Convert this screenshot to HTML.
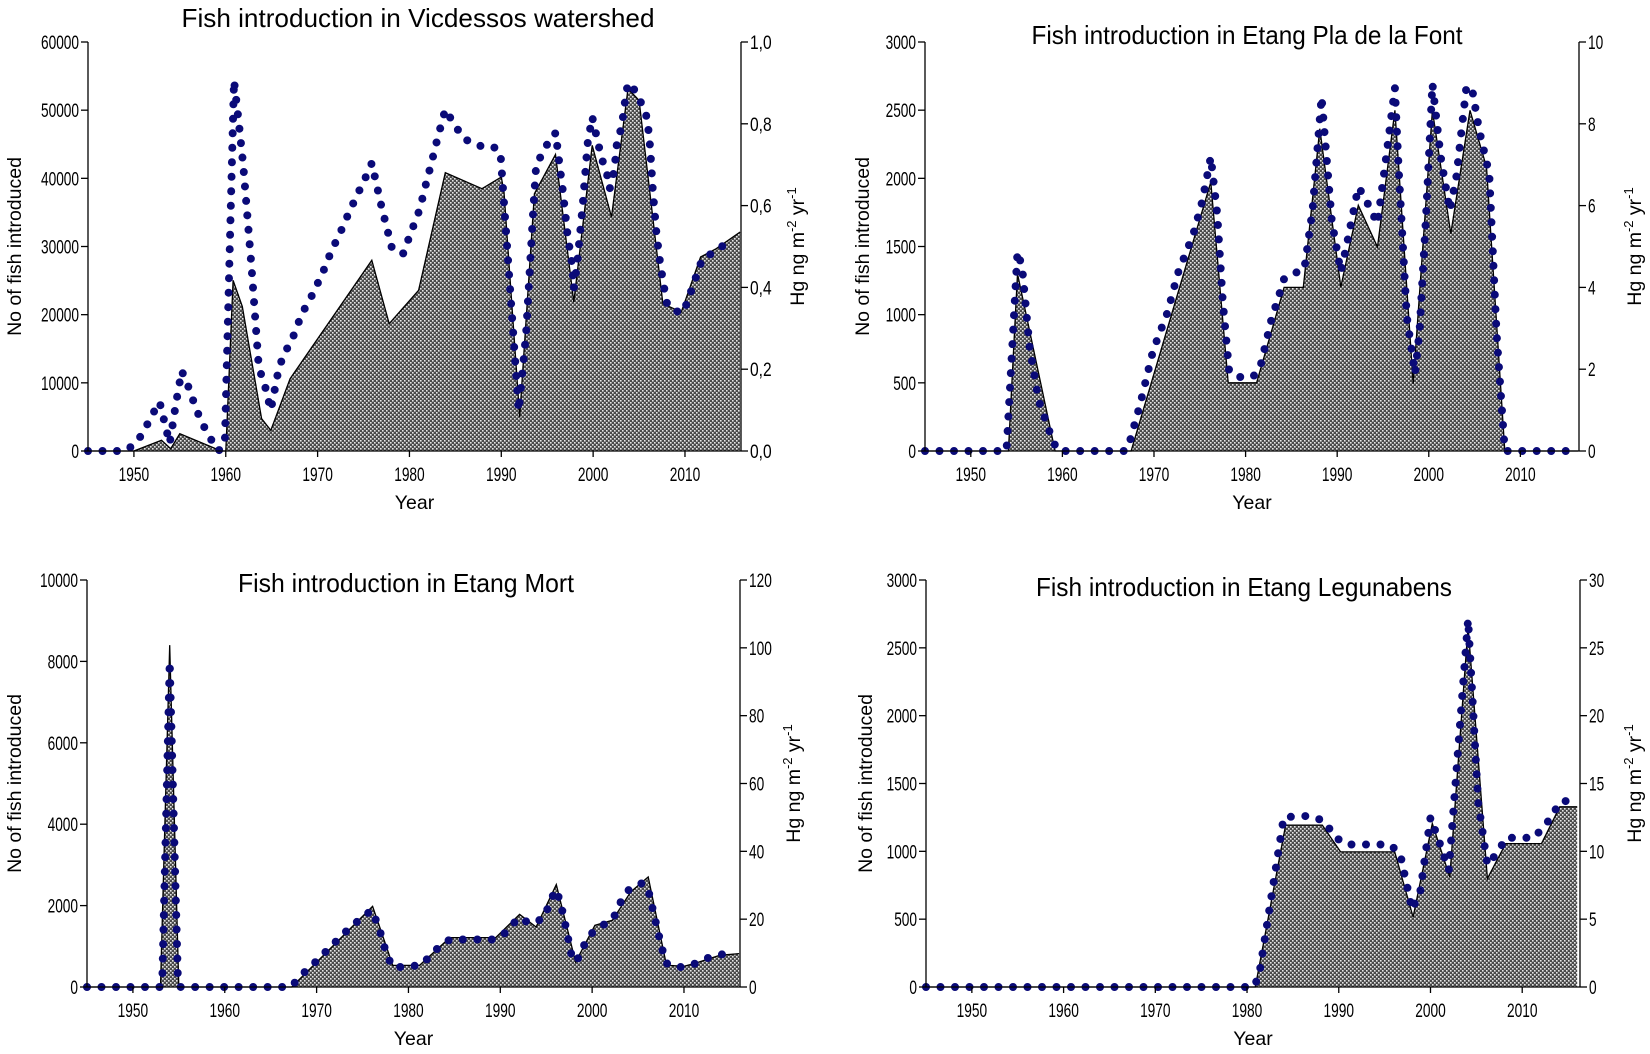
<!DOCTYPE html>
<html><head><meta charset="utf-8">
<style>
html,body{margin:0;padding:0;background:#fff;}
svg{display:block;}
text{font-family:"Liberation Sans",sans-serif;fill:#000;}
.t{font-size:19.5px;}
.ttl{font-size:26px;}
.lab{font-family:"Liberation Sans",sans-serif;font-size:19.5px;}
</style></head>
<body>
<svg id="chart" width="1650" height="1054" viewBox="0 0 1650 1054" xmlns="http://www.w3.org/2000/svg">
<defs>
<pattern id="hatch" width="4" height="4" patternUnits="userSpaceOnUse">
<rect width="4" height="4" fill="#4a4a4a"/>
<rect x="0" y="0" width="1.6" height="1.6" fill="#e6e6e6"/>
<rect x="2" y="2" width="1.6" height="1.6" fill="#e6e6e6"/>
</pattern>
</defs>
</svg>
<script>
// ---- Panel 1: Vicdessos watershed ----
const p1FishYears=[1945,1950,1953,1954,1955,1959.5,1960,1960.8,1961.8,1963.9,1964.9,1967,1975.9,1977.8,1981,1983.9,1987.9,1990,1990.3,1992,1993.6,1995.9,1997.9,1999.9,2002,2003.8,2005,2007.6,2009.6,2011.7,2013.4,2016];
const p1Fish=[0,0,1565,340,2540,0,0,25040,21220,4740,3030,10600,27970,18680,23570,40830,38480,40200,38000,5000,37750,43500,21860,44840,34330,53150,51440,21600,20390,28460,29680,32120];
const p1HgYears=[1945,1949,1950.2,1951.1,1951.9,1952.8,1953.9,1954.6,1955.2,1955.9,1956.8,1957.5,1958.4,1959.2,1959.9,1960.9,1961.4,1961.9,1962.8,1963.6,1964.3,1964.9,1965.7,1966.2,1967.3,1967.9,1968.6,1969.5,1970.2,1970.9,1971.5,1972.3,1973,1973.7,1974.4,1975.2,1975.9,1976.9,1978.1,1979.3,1980.5,1981.1,1981.9,1982.3,1983.1,1983.9,1984.9,1985.9,1987.5,1989,1989.9,1991.9,1992.7,1993.5,1993.8,1994.7,1995.5,1996,1996.1,1996.7,1997.2,1997.7,1997.9,1998.3,1998.9,1999.4,1999.9,2000.6,2001,2001.5,2001.8,2002.3,2002.6,2003.1,2003.5,2003.8,2004.5,2005.3,2005.9,2006.2,2006.5,2006.9,2007.3,2007.8,2008.1,2009.6,2010.3,2010.8,2011.9,2013.4,2015];
const p1Hg=[0,0,0.018,0.049,0.085,0.12,0.018,0.12,0.196,0.159,0.101,0.065,0.028,0,0.018,0.906,0.807,0.70,0.45,0.205,0.156,0.10,0.193,0.23,0.277,0.313,0.348,0.385,0.419,0.454,0.49,0.525,0.562,0.597,0.63,0.668,0.704,0.603,0.495,0.482,0.554,0.59,0.662,0.696,0.768,0.835,0.798,0.764,0.746,0.746,0.731,0.098,0.287,0.595,0.70,0.737,0.772,0.778,0.743,0.637,0.531,0.458,0.397,0.466,0.609,0.751,0.817,0.747,0.711,0.678,0.641,0.686,0.755,0.792,0.861,0.9,0.883,0.848,0.813,0.743,0.637,0.531,0.458,0.389,0.354,0.336,0.364,0.40,0.47,0.489,0.517];
const p1LeftTicks=[0,10000,20000,30000,40000,50000,60000];
const p1RightTicks=["0,0","0,2","0,4","0,6","0,8","1,0"];
const p1RightVals=[0,0.2,0.4,0.6,0.8,1.0];

// ---- Panel 2: Etang Pla de la Font ----
const p2FishYears=[1945,1954.1,1955.1,1959.2,1967.5,1976.2,1978.1,1981.2,1984.2,1986.3,1988.1,1990.4,1992.3,1994.4,1996.3,1998.3,2000.4,2002.4,2004.5,2006.3,2008.3,2016.3];
const p2Fish=[0,0,1300,0,0,1973,500,500,1200,1200,2364,1203,1802,1496,2499,494,2499,1594,2499,2083,0,0];
const p2HgYears=[1945,1953.9,1955.1,1955.6,1956.4,1957.4,1959,1959.6,1966.8,1967.2,1968.5,1969.9,1971.5,1972.6,1974.3,1975.3,1976.2,1976.9,1977.5,1978.2,1979.1,1980.8,1981.6,1982.8,1984.2,1985.2,1986.4,1987.3,1988.3,1989.4,1990.4,1991,1992.3,1992.9,1994.4,1995.4,1996.3,1996.7,1997.6,1998.5,1999,1999.7,2000.4,2001.3,2002.3,2003,2004.1,2004.7,2005.5,2006.6,2007.4,2008.3,2016];
const p2Hg=[0,0,4.87,4.5,2.58,1.24,0.22,0,0,0.1,1.16,2.46,3.4,4.34,5.31,6.13,7.19,5.8,3.68,1.96,1.81,1.81,2.05,3.19,4.21,4.34,4.43,5.88,8.66,5.64,4.38,4.99,6.45,6.25,5.56,7.27,8.88,6.94,3.28,1.89,2.95,5.72,8.98,7.19,5.88,6.7,8.88,8.9,7.84,6.78,2.87,0,0];
const p2LeftTicks=[0,500,1000,1500,2000,2500,3000];
const p2RightTicks=["0","2","4","6","8","10"];
const p2RightVals=[0,2,4,6,8,10];

// ---- Panel 3: Etang Mort ----
const p3FishYears=[1945,1953,1954,1955,1967.3,1976.1,1978.3,1981.2,1984.5,1989.5,1992.1,1993.9,1996.1,1998.2,2000.3,2002.2,2004.2,2006.1,2008.1,2010,2011.1,2013.9,2016];
const p3Fish=[0,0,8400,0,0,1984,530,530,1213,1213,1787,1475,2516,615,1516,1640,2336,2705,533,508,574,779,820];
const p3HgYears=[1945,1952.9,1953.2,1954,1954.9,1955.2,1967.2,1968.3,1970,1971.5,1973,1974.8,1976,1976.7,1977.2,1977.6,1978.3,1980,1981.5,1983,1984.5,1989.3,1990.5,1992,1993.3,1994.7,1996,1996.5,1997.2,1997.8,1998.3,1999,2000,2001,2002.3,2003,2004,2005.5,2006.1,2007.2,2008,2009.2,2010.8,2012.4,2014,2015.5];
const p3Hg=[0,0,2,96,2,0,0,3.4,7.7,11.8,15.9,20.2,22.6,18.2,13.8,9.6,5.9,5.9,6.7,11,14,14,15.9,20.4,18.7,20.2,28.7,25.6,16.9,8.7,7.4,11.8,15.9,17.9,20.2,24.6,28.7,30.7,28.7,15.9,7.1,5.7,6.4,8.4,9.6,9.6];
const p3LeftTicks=[0,2000,4000,6000,8000,10000];
const p3RightTicks=["0","20","40","60","80","100","120"];
const p3RightVals=[0,20,40,60,80,100,120];

// ---- Panel 4: Etang Legunabens ----
const p4FishYears=[1945,1980.9,1984.2,1988.2,1990.2,1996.1,1998.1,2000.2,2002.1,2004.1,2006.2,2008.2,2012.1,2014.1,2016];
const p4Fish=[0,0,1193,1193,996,996,516,1205,811,2656,799,1057,1057,1328,1328];
const p4HgYears=[1945,1980.7,1981.3,1984,1985.6,1987,1988.5,1989.5,1990.8,1995.6,1996.7,1998,1998.9,2000,2001,2002,2004.1,2005.2,2006.2,2007.4,2008.2,2011.3,2013.3,2014,2015.4];
const p4Hg=[0,0,0.8,12.5,12.6,12.6,12.2,11.1,10.5,10.5,9.8,5.7,7.1,12.5,10.6,8.6,27.1,13.6,9.0,10,11,11,12.6,13.6,13.8];
const p4LeftTicks=[0,500,1000,1500,2000,2500,3000];
const p4RightTicks=["0","5","10","15","20","25","30"];
const p4RightVals=[0,5,10,15,20,25,30];

const xTicks=[1950,1960,1970,1980,1990,2000,2010];

const NS="http://www.w3.org/2000/svg";
const svg=document.getElementById('chart');
function mk(tag,attrs,parent){const e=document.createElementNS(NS,tag);for(const k in attrs)e.setAttribute(k,attrs[k]);(parent||svg).appendChild(e);return e;}
function narrowLen(t,len){t.setAttribute('textLength',len.toFixed(1));t.setAttribute('lengthAdjust','spacingAndGlyphs');}

function panel(o){
  const g=mk('g',{});
  
  
  const xS=y=>o.x0+(y-1945)/(o.xMax-1945)*(o.x1-o.x0);
  const yL=v=>o.yb-v/o.lMax*(o.yb-o.yt);
  const yR=v=>o.yb-v/o.rMax*(o.yb-o.yt);
  let d='M'+xS(o.fy[0])+','+o.yb;
  o.fy.forEach((yr,i)=>{d+=' L'+xS(yr).toFixed(1)+','+yL(o.fv[i]).toFixed(1);});
  d+=' L'+xS(o.fy[o.fy.length-1]).toFixed(1)+','+o.yb+' Z';
  const area=mk('path',{d:d,fill:'url(#hatch)',stroke:'none'},g);
  
  
  let ld='';
  o.fy.forEach((yr,i)=>{ld+=(i?' L':'M')+xS(yr).toFixed(1)+','+yL(o.fv[i]).toFixed(1);});
  const line=mk('path',{d:ld,fill:'none',stroke:'#000','stroke-width':1.3},g);
  
  
  const pts=o.hy.map((yr,i)=>xS(yr).toFixed(1)+','+yR(o.hv[i]).toFixed(1)).join(' ');
  const hg=mk('polyline',{points:pts,fill:'none',stroke:'#0a0a78','stroke-width':8,'stroke-linecap':'round','stroke-linejoin':'round','stroke-dasharray':'0 14.5'},g);
  
  
  const ax=mk('g',{stroke:'#000','stroke-width':1.3},g);
  
  
  mk('line',{x1:o.x0,y1:o.yt,x2:o.x0,y2:o.yb},ax);
  mk('line',{x1:o.x1,y1:o.yt,x2:o.x1,y2:o.yb},ax);
  mk('line',{x1:o.x0,y1:o.yb,x2:o.x1,y2:o.yb},ax);
  o.lt.forEach(v=>{
    mk('line',{x1:o.x0-7,y1:yL(v),x2:o.x0,y2:yL(v)},ax);
    const t=mk('text',{x:o.x0-9,y:yL(v)+7,'text-anchor':'end',class:'t'},g);t.textContent=v;
    narrowLen(t,String(v).length*7.6);
    
    
  });
  o.rv.forEach((v,i)=>{
    mk('line',{x1:o.x1,y1:yR(v),x2:o.x1+7,y2:yR(v)},ax);
    const t=mk('text',{x:o.x1+9,y:yR(v)+7,'text-anchor':'start',class:'t'},g);t.textContent=o.rt[i];
    narrowLen(t,o.rt[i].length*(o.rt[i].indexOf(',')>=0?7.2:7.6));
    
    
  });
  xTicks.forEach(v=>{
    mk('line',{x1:xS(v),y1:o.yb,x2:xS(v),y2:o.yb+6},ax);
    const t=mk('text',{x:xS(v),y:o.yb+30,'text-anchor':'middle',class:'t'},g);t.textContent=v;
    narrowLen(t,30.5);
    
    
  });
  const tt=mk('text',{x:o.tx,y:o.ty,'text-anchor':'middle',class:'ttl'},g);tt.textContent=o.title;
  narrowLen(tt,o.tl);
  
  
  const xt=mk('text',{x:(o.x0+o.x1)/2,y:o.yb+58,'text-anchor':'middle',class:'lab'},g);xt.textContent='Year';
  
  
  const cy=(o.yt+o.yb)/2;
  const yt=mk('text',{x:0,y:0,'text-anchor':'middle',class:'lab',transform:'translate('+o.lx+','+cy+') rotate(-90)'},g);yt.textContent='No of fish introduced';
  
  
  const rt=mk('text',{x:0,y:0,'text-anchor':'middle',class:'lab',transform:'translate('+o.rx+','+cy+') rotate(-90)'},g);
  rt.innerHTML='Hg ng m<tspan dy="-8" font-size="13">-2</tspan><tspan dy="8"> yr</tspan><tspan dy="-8" font-size="13">-1</tspan>';
  
  
}

panel({name:'panel-vicdessos',x0:88,x1:741,yt:42,yb:451,xMax:2016.1,lMax:60000,rMax:1.0,fy:p1FishYears,fv:p1Fish,hy:p1HgYears,hv:p1Hg,lt:p1LeftTicks,rt:p1RightTicks,rv:p1RightVals,title:'Fish introduction in Vicdessos watershed',tx:418,ty:27,tl:473,lx:21,rx:804});
panel({name:'panel-pla-de-la-font',x0:925,x1:1579,yt:42,yb:451,xMax:2016.4,lMax:3000,rMax:10,fy:p2FishYears,fv:p2Fish,hy:p2HgYears,hv:p2Hg,lt:p2LeftTicks,rt:p2RightTicks,rv:p2RightVals,title:'Fish introduction in Etang Pla de la Font',tx:1247,ty:44,tl:431,lx:869,rx:1641});
panel({name:'panel-etang-mort',x0:87,x1:740,yt:580,yb:987,xMax:2016.1,lMax:10000,rMax:120,fy:p3FishYears,fv:p3Fish,hy:p3HgYears,hv:p3Hg,lt:p3LeftTicks,rt:p3RightTicks,rv:p3RightVals,title:'Fish introduction in Etang Mort',tx:406,ty:592,tl:336,lx:21,rx:800});
panel({name:'panel-legunabens',x0:926,x1:1580,yt:580,yb:987,xMax:2016.3,lMax:3000,rMax:30,fy:p4FishYears,fv:p4Fish,hy:p4HgYears,hv:p4Hg,lt:p4LeftTicks,rt:p4RightTicks,rv:p4RightVals,title:'Fish introduction in Etang Legunabens',tx:1244,ty:596,tl:416,lx:872,rx:1641});
</script>
</body></html>
